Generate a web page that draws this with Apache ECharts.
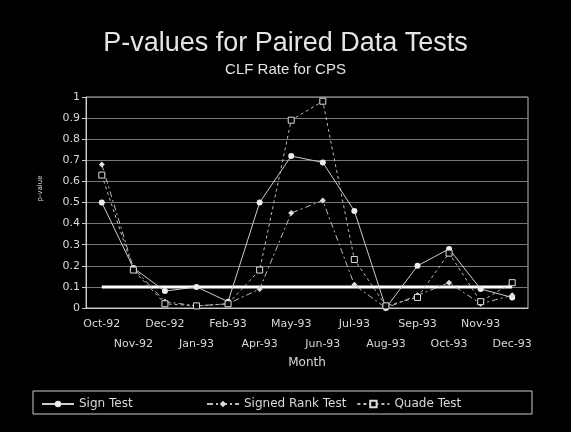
<!DOCTYPE html>
<html>
<head>
<meta charset="utf-8">
<script src="https://cdn.jsdelivr.net/npm/echarts@6/dist/echarts.min.js"></script>
<style>
  html, body { margin: 0; padding: 0; background: #000; }
  #chart { width: 571px; height: 432px; }
</style>
</head>
<body>
<div id="chart"></div>
<script>
const months = ['Oct-92', 'Nov-92', 'Dec-92', 'Jan-93', 'Feb-93', 'Apr-93', 'May-93',
  'Jun-93', 'Jul-93', 'Aug-93', 'Sep-93', 'Oct-93', 'Nov-93', 'Dec-93'];
const signTest = [0.5, 0.19, 0.08, 0.1, 0.03, 0.5, 0.72, 0.69, 0.46, 0.0, 0.2, 0.28, 0.09, 0.05];
const signedRank = [0.68, 0.19, 0.03, 0.01, 0.02, 0.09, 0.45, 0.51, 0.11, 0.0, 0.06, 0.12, 0.02, 0.06];
const quade = [0.63, 0.18, 0.02, 0.01, 0.02, 0.18, 0.89, 0.98, 0.23, 0.01, 0.05, 0.26, 0.03, 0.12];
const cutoff = months.map(() => 0.1);

const fg = '#d8d8d8';
const font = 'Liberation Sans, Arial, sans-serif';
const wide = 'DejaVu Sans, sans-serif';

const chart = echarts.init(document.getElementById('chart'));
chart.setOption({
  backgroundColor: '#000',
  animation: false,
  textStyle: { fontFamily: wide, color: fg },
  title: {
    text: 'P-values for Paired Data Tests',
    subtext: 'CLF Rate for CPS',
    left: 'center',
    top: 25,
    itemGap: 5,
    textStyle: { fontFamily: font, color: '#e4e4e4', fontSize: 27, fontWeight: 'normal' },
    subtextStyle: { fontFamily: font, color: '#e4e4e4', fontSize: 15 }
  },
  grid: { left: 86, right: 43, top: 97, bottom: 124, show: true, borderColor: '#bbb', borderWidth: 1 },
  legend: [{
    data: ['Sign Test'],
    left: 36, top: 393,
    itemWidth: 32, itemHeight: 8,
    textStyle: { color: fg, fontSize: 12, fontFamily: wide }
  }, {
    data: ['Signed Rank Test', 'Quade Test'],
    left: 201, top: 393,
    itemGap: 10,
    itemWidth: 32, itemHeight: 8,
    textStyle: { color: fg, fontSize: 12, fontFamily: wide }
  }],
  graphic: [{
    type: 'rect',
    shape: { x: 33, y: 391, width: 499, height: 23 },
    style: { fill: 'none', stroke: '#ccc', lineWidth: 1 }
  }],
  xAxis: {
    type: 'category',
    data: months,
    boundaryGap: true,
    name: 'Month',
    nameLocation: 'middle',
    nameGap: 49,
    nameTextStyle: { color: fg, fontSize: 12, fontFamily: wide },
    axisLine: { lineStyle: { color: '#ccc' } },
    axisTick: { alignWithLabel: true, lineStyle: { color: '#ccc' } },
    axisLabel: {
      interval: 0,
      color: fg,
      fontSize: 11,
      fontFamily: wide,
      lineHeight: 20,
      margin: 6,
      formatter: (v, i) => (i % 2 ? '\n' + v : v)
    },
    splitLine: { show: false }
  },
  yAxis: {
    type: 'value',
    min: 0,
    max: 1,
    interval: 0.1,
    name: 'p-value',
    nameLocation: 'middle',
    nameGap: 42,
    nameTextStyle: { color: fg, fontSize: 7, fontFamily: wide, padding: [0, 0, 0, 28] },
    axisLine: { show: true, lineStyle: { color: '#ccc' } },
    axisTick: { show: true, length: 4, lineStyle: { color: '#ccc' } },
    axisLabel: { color: fg, fontSize: 11, fontFamily: wide, margin: 6, formatter: v => String(+v.toFixed(1)) },
    splitLine: { lineStyle: { color: '#777', width: 1 } }
  },
  series: [{
    name: 'Sign Test',
    type: 'line',
    data: signTest,
    symbol: 'circle',
    symbolSize: 6,
    itemStyle: { color: '#eee' },
    lineStyle: { color: '#ccc', width: 1 }
  }, {
    name: 'Signed Rank Test',
    type: 'line',
    data: signedRank,
    symbol: 'diamond',
    symbolSize: 6,
    itemStyle: { color: '#ddd' },
    lineStyle: { color: '#bbb', width: 1, type: [6, 3, 2, 3] }
  }, {
    name: 'Quade Test',
    type: 'line',
    data: quade,
    symbol: 'rect',
    symbolSize: 6,
    itemStyle: { color: '#000', borderColor: '#ddd', borderWidth: 1 },
    lineStyle: { color: '#bbb', width: 1, type: [3, 3] }
  }, {
    name: 'cutoff',
    type: 'line',
    data: cutoff,
    symbol: 'none',
    silent: true,
    lineStyle: { color: '#fff', width: 3 },
    z: 1
  }]
});
</script>
</body>
</html>
